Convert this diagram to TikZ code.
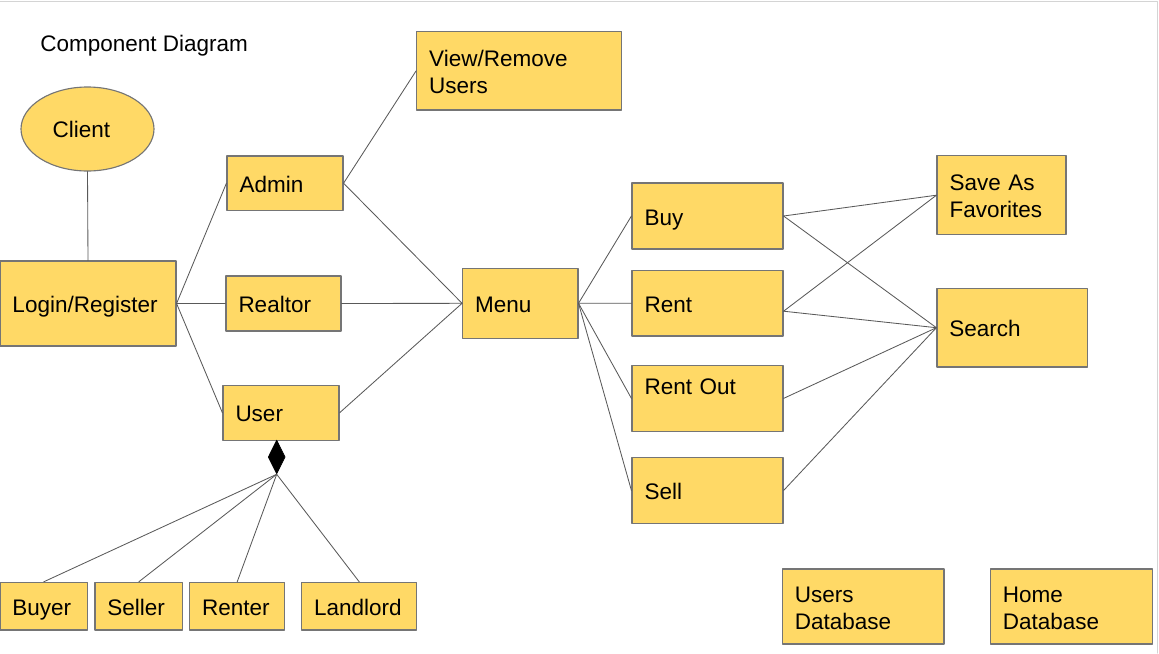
\documentclass[tikz,border=0pt]{standalone}
\usepackage{fontspec}
\setmainfont{Liberation Sans}
\usetikzlibrary{shapes.geometric}
\definecolor{boxfill}{HTML}{FFD966}
\definecolor{boxline}{HTML}{757575}
\definecolor{wire}{HTML}{595959}
\definecolor{framegray}{HTML}{D4D4D4}

\begin{document}
\begin{tikzpicture}[x=0.025cm, y=-0.025cm, line cap=round, line join=round,
	font=\fontsize{16}{19.2}\selectfont,
	comp/.style 2 args={draw=boxline, fill=boxfill, line width=0.8pt, rectangle,
		minimum width=#1*0.025cm, minimum height=#2*0.025cm,
		text width=(#1-25)*0.025cm, inner xsep=0.3125cm, inner ysep=0pt, align=left,
		execute at begin node={\rule{0pt}{17pt}},
		execute at end node={\rule[-4pt]{0pt}{4pt}}},
	link/.style={draw=wire, line width=0.6pt}]
	
	\useasboundingbox (0,0) rectangle (1159,653);
	\draw[framegray, line width=0.8pt] (0,1.5) -- (1157.5,1.5) -- (1157.5,653);
	
	% ===============================
	% ========== LEFT SIDE ==========
	% client, login and the three roles
	% ===============================
	\node[anchor=base west, inner sep=0pt] (title) at (40,51.7) {Component Diagram};
	
	\node[ellipse, draw=boxline, fill=boxfill, line width=0.8pt,
	minimum width=133*0.025cm, minimum height=84*0.025cm] (client) at (87.5,129) {Client\hspace*{0.3cm}};
	\node[comp={176}{85}] (login) at (88,303.5) {Login/Register};
	
	\node[comp={116}{54.5}] (admin) at (285,183.2) {Admin};
	\node[comp={115}{55}] (realtor) at (283.5,303.5) {Realtor};
	\node[comp={116}{55}] (user) at (281,412.8) {User};
	\node[comp={205}{78.3}] (viewusers) at (519.2,70.8) {View/Remove\\Users};
	
	% ---- kinds of user (aggregation) ----
	\node[diamond, draw=black, fill=black, line width=0.4pt, inner sep=0pt,
	minimum width=17*0.025cm, minimum height=34*0.025cm] (agg) at (276.7,457) {};
	\node[comp={87.7}{47.7}] (buyer) at (43.8,606.2) {Buyer};
	\node[comp={87.7}{47.7}] (seller) at (138.8,606.2) {Seller};
	\node[comp={95}{47.7}] (renter) at (237.2,606.2) {Renter};
	\node[comp={115}{47.7}] (landlord) at (359.2,606.2) {Landlord};
	
	% ===============================
	% ========== RIGHT SIDE =========
	% menu, actions and databases
	% ===============================
	\node[comp={115.3}{70}] (menu) at (520.3,303.3) {Menu};
	\node[comp={151}{66}] (buy) at (707.5,216) {Buy};
	\node[comp={151}{65.5}] (rent) at (707.5,303.2) {Rent};
	\node[comp={151}{66}] (rentout) at (707.5,398.4) {Rent Out\\~};
	\node[comp={151}{65.6}] (sell) at (707.5,490.5) {Sell};
	\node[comp={129}{79}] (favorites) at (1001.5,195.2) {Save As\\Favorites};
	\node[comp={150.5}{78.7}] (search) at (1012.2,327.7) {Search};
	
	\node[comp={161.7}{75}] (usersdb) at (863.2,606.5) {Users\\Database};
	\node[comp={161.7}{75}] (homedb) at (1071.2,606.5) {Home\\Database};
	
	% ---- connectors ----
	\draw[link] (client.south) -- (login.north);
	\foreach \r in {admin,realtor,user}
	\draw[link] (login.east) -- (\r.west);
	\draw[link] (admin.east) -- (viewusers.west);
	\foreach \r in {admin,realtor,user}
	\draw[link] (\r.east) -- (menu.west);
	\foreach \k in {buyer,seller,renter,landlord}
	\draw[link] (agg.south) -- (\k.north);
	
	\foreach \a in {buy,rent,rentout,sell}
	\draw[link] (menu.east) -- (\a.west);
	\draw[link] (buy.east) -- (favorites.west);
	\draw[link] (buy.east) -- (search.west);
	\draw[link] ([yshift=-0.2cm]rent.east) -- (favorites.west);
	\draw[link] ([yshift=-0.2cm]rent.east) -- (search.west);
	\draw[link] (rentout.east) -- (search.west);
	\draw[link] (sell.east) -- (search.west);
	
\end{tikzpicture}
\end{document}
